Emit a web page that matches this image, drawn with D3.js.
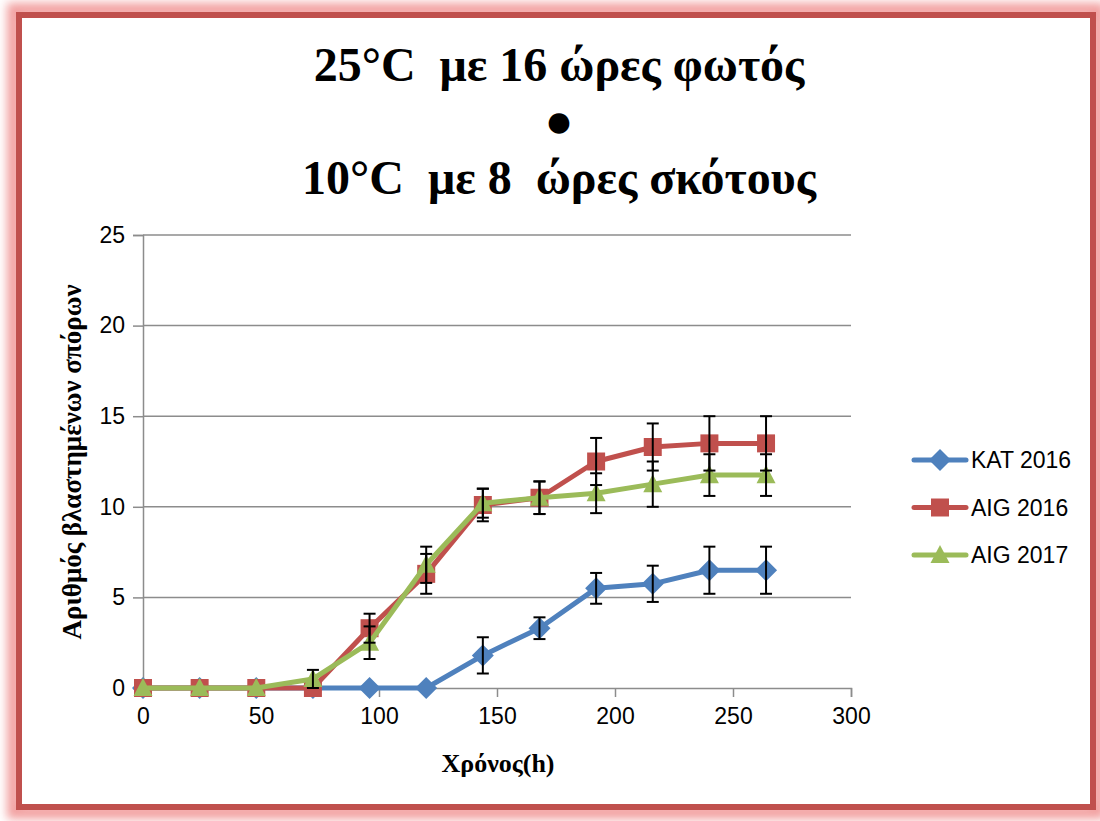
<!doctype html>
<html>
  <head>
    <meta charset="utf-8">
    <script src="https://cdnjs.cloudflare.com/ajax/libs/d3/7.8.5/d3.min.js"></script>
    <style>
      body { margin: 0; background: #fff; }
    </style>
  </head>
  <body>
    <svg width="1100" height="821"></svg>
    <script>
        // hours
        var hours = [0, 24, 48, 72, 96, 120, 144, 168, 192, 216, 240, 264];

        var seriesNames = ["KAT 2016", "AIG 2016", "AIG 2017"];

        var kat2016 = [0, 0, 0, 0, 0, 0, 1.8, 3.3, 5.5, 5.75, 6.5, 6.5];
        var kat2016Err = [0, 0, 0, 0, 0, 0, 1.0, 0.6, 0.85, 1.0, 1.3, 1.3];

        var aig2016 = [0, 0, 0, 0, 3.3, 6.3, 10.1, 10.5, 12.5, 13.3, 13.5, 13.5];
        var aig2016Err = [0, 0, 0, 0, 0.8, 1.1, 0.9, 0.9, 1.3, 1.3, 1.5, 1.5];

        var aig2017 = [0, 0, 0, 0.5, 2.5, 6.8, 10.2, 10.5, 10.75, 11.25, 11.75, 11.75];
        var aig2017Err = [0, 0, 0, 0.5, 0.9, 1.0, 0.8, 0.9, 1.1, 1.25, 1.15, 1.15];

        var xTicks = [0, 50, 100, 150, 200, 250, 300];
        var yTicks = [0, 5, 10, 15, 20, 25];

        var colours = ["#4F81BD", "#C0504D", "#9BBB59"];

        // excel-like markers (size = half width)
        var diamond = { draw: function(c, r) { c.moveTo(0, -r); c.lineTo(r, 0); c.lineTo(0, r); c.lineTo(-r, 0); c.closePath(); } };
        var square = { draw: function(c, r) { c.rect(-r, -r, 2 * r, 2 * r); } };
        var triangle = { draw: function(c, r) { c.moveTo(0, -r * 1.05); c.lineTo(r, r * 0.85); c.lineTo(-r, r * 0.85); c.closePath(); } };
        var shapes = [diamond, square, triangle];
        var symbolSizes = [11, 9, 9.5];

        var svg = d3.select("svg");

        // frame with soft pink glow
        var defs = svg.append("defs");
        defs.append("filter").attr("id", "glow")
            .attr("x", "-5%").attr("y", "-5%").attr("width", "110%").attr("height", "110%")
            .append("feGaussianBlur").attr("stdDeviation", 5);

        svg.append("rect")
            .attr("x", 14).attr("y", 10).attr("width", 1084).attr("height", 802)
            .attr("fill", "none").attr("stroke", "#F2A0A0").attr("stroke-width", 14)
            .attr("filter", "url(#glow)");
        svg.append("rect")
            .attr("x", 19).attr("y", 15).attr("width", 1074).attr("height", 792)
            .attr("fill", "#fff").attr("stroke", "#C0504D").attr("stroke-width", 6);

        // title
        var title = svg.append("text")
            .attr("text-anchor", "middle")
            .style("white-space", "pre")
            .style("font-family", "'Liberation Serif', 'Times New Roman', serif")
            .style("font-weight", "bold")
            .style("font-size", "48px");
        title.append("tspan").attr("x", 559).attr("y", 81).text("25°C  με 16 ώρες φωτός");
        title.append("tspan").attr("x", 559).attr("y", 137).text("●");
        title.append("tspan").attr("x", 559).attr("y", 194).text("10°C  με 8  ώρες σκότους");

        var x = d3.scaleLinear().domain([0, 300]).range([143, 851]);
        var y = d3.scaleLinear().domain([0, 25]).range([688, 235]);

        // grid
        svg.append("g")
            .selectAll("line")
            .data(yTicks.slice(1))
            .enter()
            .append("line")
                .attr("x1", x(0)).attr("x2", x(300))
                .attr("y1", d => y(d)).attr("y2", d => y(d))
                .attr("stroke", "#8c8c8c").attr("stroke-width", 1.5);

        var tickFont = "'Liberation Sans', 'DejaVu Sans', sans-serif";

        var xAxis = svg.append("g")
            .attr("transform", "translate(0," + y(0) + ")")
            .call(d3.axisBottom(x).tickValues(xTicks).tickSize(9).tickPadding(11));
        var yAxis = svg.append("g")
            .attr("transform", "translate(" + x(0) + ",0)")
            .call(d3.axisLeft(y).tickValues(yTicks).tickSize(10).tickPadding(8));

        [xAxis, yAxis].forEach(function(a) {
            a.select(".domain").attr("stroke", "#8c8c8c").attr("stroke-width", 1.5);
            a.selectAll(".tick line").attr("stroke", "#8c8c8c").attr("stroke-width", 1.5);
            a.selectAll(".tick text")
                .style("font-family", tickFont)
                .style("font-size", "23px")
                .attr("fill", "#000");
        });

        // axis titles
        svg.append("text")
            .attr("x", 498).attr("y", 772)
            .attr("text-anchor", "middle")
            .style("font-family", "'Liberation Serif', serif")
            .style("font-weight", "bold")
            .style("font-size", "26px")
            .text("Χρόνος(h)");

        svg.append("text")
            .attr("transform", "translate(81,462) rotate(-90)")
            .attr("text-anchor", "middle")
            .style("font-family", "'Liberation Serif', serif")
            .style("font-weight", "bold")
            .style("font-size", "27px")
            .text("Αριθμός βλαστημένων σπόρων");

        var values = [kat2016, aig2016, aig2017];
        var errors = [kat2016Err, aig2016Err, aig2017Err];

        var line = d3.line()
            .x((d, i) => x(hours[i]))
            .y(d => y(d));

        values.forEach(function(vals, s) {
            var g = svg.append("g");
            g.append("path")
                .attr("d", line(vals))
                .attr("fill", "none")
                .attr("stroke", colours[s])
                .attr("stroke-width", 5)
                .attr("stroke-linejoin", "round");
            g.selectAll("path.mark")
                .data(vals)
                .enter()
                .append("path")
                    .attr("class", "mark")
                    .attr("transform", (d, i) => "translate(" + x(hours[i]) + "," + y(d) + ")")
                    .attr("d", d3.symbol().type(shapes[s]).size(symbolSizes[s]))
                    .attr("fill", colours[s]);
        });

        // error bars on top
        values.forEach(function(vals, s) {
            var eb = svg.append("g").attr("stroke", "#000").attr("stroke-width", 2);
            vals.forEach(function(v, i) {
                var e = errors[s][i];
                if (e <= 0) return;
                var cx = x(hours[i]);
                eb.append("line").attr("x1", cx).attr("x2", cx).attr("y1", y(v + e)).attr("y2", y(v - e));
                eb.append("line").attr("x1", cx - 6).attr("x2", cx + 6).attr("y1", y(v + e)).attr("y2", y(v + e));
                eb.append("line").attr("x1", cx - 6).attr("x2", cx + 6).attr("y1", y(v - e)).attr("y2", y(v - e));
            });
        });

        // legend
        var legend = svg.append("g")
            .selectAll("g")
            .data(seriesNames)
            .enter()
            .append("g")
                .attr("transform", (d, i) => "translate(914," + (460 + i * 47.5) + ")");
        legend.append("line")
            .attr("x1", 0).attr("x2", 52)
            .attr("stroke", (d, i) => colours[i])
            .attr("stroke-width", 5)
            .attr("stroke-linecap", "round");
        legend.append("path")
            .attr("transform", "translate(26,0)")
            .attr("d", (d, i) => d3.symbol().type(shapes[i]).size(symbolSizes[i])())
            .attr("fill", (d, i) => colours[i]);
        legend.append("text")
            .attr("x", 57).attr("y", 8)
            .style("font-family", tickFont)
            .style("font-size", "23px")
            .text(d => d);
    </script>
  </body>
</html>
